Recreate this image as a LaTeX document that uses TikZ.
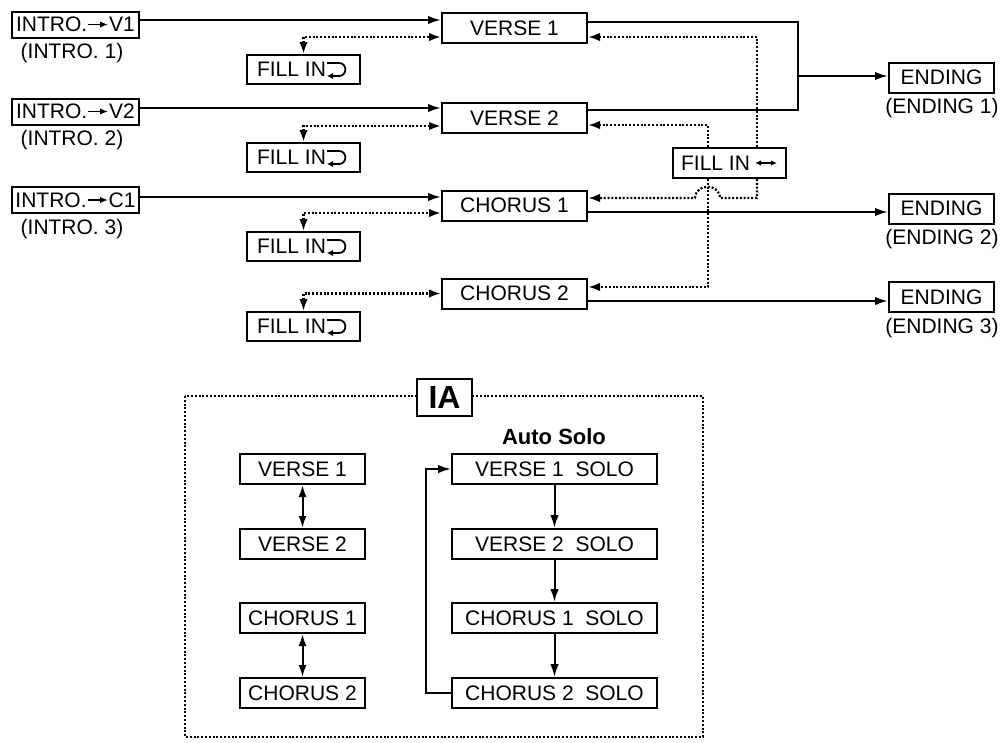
\documentclass[tikz,border=0pt]{standalone}
\usepackage{fontspec}
\setmainfont{Liberation Sans}
\usetikzlibrary{arrows.meta,calc}
\newcommand\myfs{\fontsize{21}{24}\selectfont}
\tikzset{
  bx/.style={draw, line width=2pt, minimum height=30pt, inner sep=0pt, font=\myfs},
  lbl/.style={inner sep=0pt, font=\myfs},
  ln/.style={line width=2.2pt},
  arr/.style={ln, -{Latex[length=13pt,width=8.5pt]}},
  dot/.style={line width=2.2pt, dash pattern=on 2pt off 1.8pt},
  darr/.style={dot, -{Latex[length=12pt,width=8.5pt]}},
  ddarr/.style={dot, {Latex[length=12pt,width=8.5pt]}-{Latex[length=12pt,width=8.5pt]}},
  dblarr/.style={line width=2pt, {Latex[length=12pt,width=8pt]}-{Latex[length=12pt,width=8pt]}},
  hooksym/.pic={\draw[line width=1.8pt, -{Latex[length=6pt,width=6.5pt]}] (-10pt,6.5pt) -- (2pt,6.5pt) .. controls (10.5pt,6.5pt) and (10.5pt,-6.5pt) .. (2pt,-6.5pt) -- (-10pt,-6.5pt);},
  lrsym/.pic={\draw[line width=1.6pt, {Latex[length=6pt,width=5.5pt]}-{Latex[length=6pt,width=5.5pt]}] (-11pt,0pt) -- (11pt,0pt);},
  rsym/.pic={\draw[line width=1.6pt, -{Latex[length=8pt,width=6.5pt]}] (-10pt,0pt) -- (10pt,0pt);}
}
\begin{document}
\begin{tikzpicture}[x=1pt,y=-1pt]
\useasboundingbox (0,0) rectangle (1001,742);

% intro boxes
\node[bx, minimum width=127pt, minimum height=26pt] (i1) at (75.5,24.5) {INTRO.\hspace{22pt}V1};
\node[bx, minimum width=127pt, minimum height=26pt] (i2) at (75.5,111.5) {INTRO.\hspace{22pt}V2};
\node[bx, minimum width=127pt, minimum height=26pt] (i3) at (75.5,200) {INTRO.\hspace{22pt}C1};
\pic at ($(i1.center)+(22.5,0)$) {rsym};
\pic at ($(i2.center)+(22.5,0)$) {rsym};
\pic at ($(i3.center)+(22.5,0)$) {rsym};
\node[lbl] (li1) at (72,53) {(INTRO. 1)};
\node[lbl] (li2) at (72,140) {(INTRO. 2)};
\node[lbl] (li3) at (72,229) {(INTRO. 3)};

% main boxes
\node[bx, minimum width=145pt] (v1) at (514.5,28) {VERSE 1};
\node[bx, minimum width=145pt] (v2) at (514.5,118) {VERSE 2};
\node[bx, minimum width=145pt] (c1) at (514.5,205.5) {CHORUS 1};
\node[bx, minimum width=145pt] (c2) at (514.5,293.5) {CHORUS 2};

% fill in boxes
\node[bx, minimum width=113pt, minimum height=29pt] (f1) at (303.5,69.5) {FILL IN\kern24pt};
\node[bx, minimum width=113pt, minimum height=29pt] (f2) at (303.5,157.5) {FILL IN\kern24pt};
\node[bx, minimum width=113pt, minimum height=29pt] (f3) at (303.5,246.5) {FILL IN\kern24pt};
\node[bx, minimum width=113pt, minimum height=29pt] (f4) at (303.5,326.5) {FILL IN\kern24pt};
\pic at ($(f1.east)+(-24,0)$) {hooksym};
\pic at ($(f2.east)+(-24,0)$) {hooksym};
\pic at ($(f3.east)+(-24,0)$) {hooksym};
\pic at ($(f4.east)+(-24,0)$) {hooksym};

\node[bx, minimum width=113pt] (fx) at (729.5,163) {FILL IN\kern28pt};
\pic at ($(fx.east)+(-21,0)$) {lrsym};

% endings
\node[bx, minimum width=105pt] (e1) at (941.5,77.5) {ENDING};
\node[bx, minimum width=105pt] (e2) at (941.5,208.5) {ENDING};
\node[bx, minimum width=105pt] (e3) at (941.5,297) {ENDING};
\node[lbl] (le1) at (942,108) {(ENDING 1)};
\node[lbl] (le2) at (942,239) {(ENDING 2)};
\node[lbl] (le3) at (942,328) {(ENDING 3)};

% intro connectors
\draw[arr] (i1.east |- 0,20) -- (v1.west |- 0,20);
\draw[arr] (i2.east |- 0,108) -- (v2.west |- 0,108);
\draw[arr] (i3.east |- 0,197) -- (c1.west |- 0,197);

% fill-in (left) connectors
\draw[ddarr] (f1.north) |- (v1.west |- 0,37);
\draw[ddarr] (f2.north) |- (v2.west |- 0,126);
\draw[ddarr] (f3.north) |- (c1.west |- 0,213);
\draw[ddarr] (f4.north) |- (c2.west);

% endings connectors
\coordinate (j) at (798,76);
\draw[ln] (v1.east |- 0,22) -| (j) |- (v2.east |- 0,110);
\draw[arr] (j) -- (e1.west |- j);
\draw[arr] (c1.east |- 0,212) -- (e2.west |- 0,212);
\draw[arr] (c2.east |- 0,301) -- (e3.west |- 0,301);

% fill-in (right) connectors
\draw[darr] (fx.north -| 757,0) |- (v1.east |- 0,37);
\draw[darr] (fx.north -| 708,0) |- (v2.east |- 0,125);
\draw[darr] (fx.south -| 757,0) |- (720,198) .. controls (719,183) and (696,183) .. (695,198) -- (c1.east |- 0,198);
\draw[darr] (fx.south -| 708,0) |- (c2.east |- 0,287);

% IA frame
\draw[dot] (185,396) rectangle (703,737);
\node[bx, fill=white, minimum width=55pt, minimum height=37pt, font=\bfseries\fontsize{32}{36}\selectfont] (ia) at (444.5,397.5) {IA};
\node[inner sep=0pt, font=\bfseries\fontsize{22}{26}\selectfont] (as) at (554,437) {Auto Solo};

\node[bx, minimum width=125pt] (bv1) at (302.5,469) {VERSE 1};
\node[bx, minimum width=125pt] (bv2) at (302.5,544) {VERSE 2};
\node[bx, minimum width=125pt] (bc1) at (302.5,618) {CHORUS 1};
\node[bx, minimum width=125pt] (bc2) at (302.5,693) {CHORUS 2};
\draw[dblarr] (bv1) -- (bv2);
\draw[dblarr] (bc1) -- (bc2);

\node[bx, minimum width=205pt] (s1) at (554.5,469) {VERSE 1\ \ SOLO};
\node[bx, minimum width=205pt] (s2) at (554.5,544) {VERSE 2\ \ SOLO};
\node[bx, minimum width=205pt] (s3) at (554.5,618) {CHORUS 1\ \ SOLO};
\node[bx, minimum width=205pt] (s4) at (554.5,693) {CHORUS 2\ \ SOLO};
\draw[arr, line width=2pt] (s1) -- (s2);
\draw[arr, line width=2pt] (s2) -- (s3);
\draw[arr, line width=2pt] (s3) -- (s4);
\draw[arr, line width=2pt] (s4.west) -| ($(s1.west)+(-25,0)$) -- (s1.west);
\end{tikzpicture}
\end{document}
